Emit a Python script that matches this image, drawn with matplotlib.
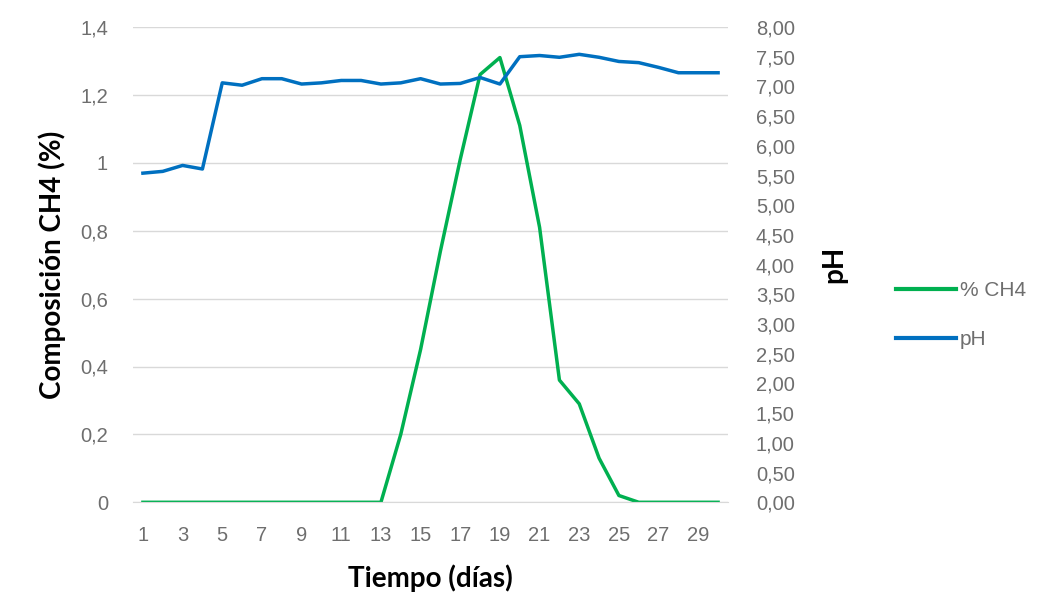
import numpy as np
import matplotlib
matplotlib.use("Agg")
import matplotlib.pyplot as plt
from matplotlib.ticker import FuncFormatter
from matplotlib.lines import Line2D

# datos
dias = np.arange(1, 31)
ch4 = [0, 0, 0, 0, 0, 0, 0, 0, 0, 0, 0, 0, 0, 0.20, 0.45, 0.74, 1.01, 1.26, 1.31, 1.11,
       0.81, 0.36, 0.29, 0.13, 0.02, 0, 0, 0, 0, 0]
ph = [5.54, 5.57, 5.67, 5.61, 7.06, 7.02, 7.13, 7.13, 7.04, 7.06, 7.10, 7.10, 7.04, 7.06, 7.13,
      7.04, 7.05, 7.15, 7.04, 7.50, 7.52, 7.49, 7.54, 7.49, 7.42, 7.40, 7.32, 7.23, 7.23, 7.23]
xticks = np.arange(1, 30, 2)

verde = '#00B050'
azul = '#0070C0'
gris = '#6E6E6E'
plt.rcParams['font.family'] = ['Liberation Sans', 'DejaVu Sans']
fuente_titulo = 'Lato'

fig = plt.figure(figsize=(10.45, 5.96), dpi=100)
ax = fig.add_axes([133/1045, 1 - 502.3/596, (728 - 133)/1045, (502.3 - 27)/596])
ax2 = ax.twinx()

ax.plot(dias, ch4, color=verde, lw=2.5, solid_joinstyle='round')
ax2.plot(dias, ph, color=azul, lw=2.5, solid_joinstyle='round')

ax.set_xlim(0.5, 30.5)
ax.set_ylim(0, 1.4)
ax2.set_ylim(0, 8)
ax.set_yticks(np.arange(0, 1.41, 0.2))
ax2.set_yticks(np.arange(0, 8.01, 0.5))
ax.set_xticks(xticks)

ax.yaxis.set_major_formatter(FuncFormatter(lambda v, p: f'{v:.1f}'.replace('.', ',') if round(v, 1) not in (0, 1) else f'{int(round(v))}'))
ax2.yaxis.set_major_formatter(FuncFormatter(lambda v, p: f'{v:.2f}'.replace('.', ',')))

ax.grid(axis='y', color='#D9D9D9', lw=1)
ax.set_axisbelow(True)
for a in (ax, ax2):
    for s in a.spines.values():
        s.set_visible(False)
    a.tick_params(length=0, labelsize=14.5, labelcolor=gris)
ax.spines['bottom'].set_visible(True)
ax.spines['bottom'].set_color('#D9D9D9')
ax.tick_params(axis='y', pad=18)
ax2.tick_params(axis='y', pad=20)
ax.tick_params(axis='x', pad=17)

ax.set_xlabel('Tiempo (días)', fontsize=20, fontweight='bold', family=fuente_titulo, labelpad=14)
ax.set_ylabel('Composición CH4 (%)', fontsize=20, fontweight='bold', family=fuente_titulo, labelpad=10)
ax2.set_ylabel('pH', fontsize=20, fontweight='bold', family=fuente_titulo, labelpad=19)

handles = [Line2D([], [], color=verde, lw=3), Line2D([], [], color=azul, lw=3)]
fig.legend(handles, ['% CH4', 'pH'], loc='center left', bbox_to_anchor=(0.839, 0.471),
           frameon=False, prop={'size': 15}, labelcolor=gris,
           handlelength=2.9, handletextpad=0.2, labelspacing=1.45)

fig.savefig('out.png', dpi=100)
